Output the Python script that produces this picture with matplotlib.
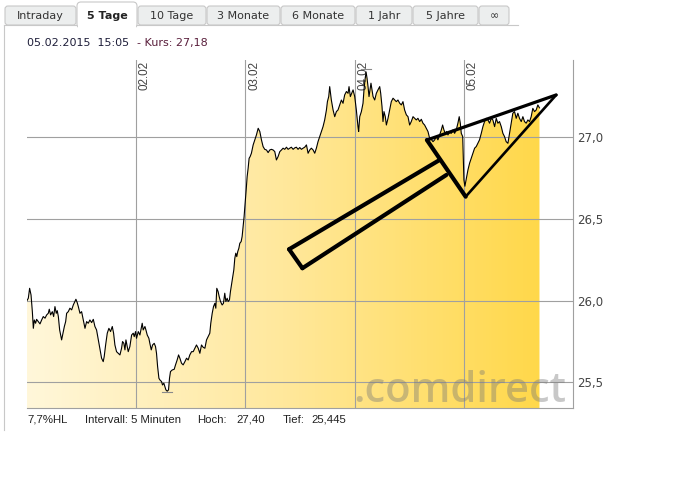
import numpy as np
import matplotlib
matplotlib.use("Agg")
import matplotlib.pyplot as plt
from matplotlib.patches import Rectangle, FancyBboxPatch, PathPatch
from matplotlib.colors import LinearSegmentedColormap
import matplotlib.transforms as mtransforms

# ---------------- data (time in trading days from 30.01.2015 09:00) ----------------
day1_t = [0.000, 0.012, 0.024, 0.037, 0.049, 0.058, 0.067, 0.079, 0.088, 0.104, 0.119, 0.134, 0.149, 0.165,
          0.180, 0.195, 0.204, 0.216, 0.232, 0.244, 0.256, 0.268, 0.277, 0.287, 0.299, 0.317, 0.332, 0.342,
          0.354, 0.363, 0.378, 0.393, 0.409, 0.424, 0.439, 0.448, 0.460, 0.470, 0.485, 0.500, 0.515, 0.531,
          0.546, 0.561, 0.576, 0.592, 0.607, 0.622, 0.637, 0.653, 0.668, 0.683, 0.698, 0.707, 0.720, 0.735,
          0.750, 0.765, 0.781, 0.793, 0.805, 0.820, 0.836, 0.851, 0.866, 0.875, 0.887, 0.897, 0.906, 0.918,
          0.927, 0.942, 0.958, 0.973, 0.982, 0.994]
day1_v = [26.000, 26.014, 26.075, 26.034, 25.932, 25.830, 25.881, 25.861, 25.885, 25.871, 25.857, 25.881,
          25.902, 25.892, 25.912, 25.922, 25.947, 25.912, 25.932, 25.902, 25.963, 25.922, 25.938, 25.902,
          25.820, 25.759, 25.810, 25.841, 25.871, 25.922, 25.932, 25.953, 25.943, 25.973, 25.994, 26.008,
          25.987, 25.963, 25.922, 25.932, 25.881, 25.830, 25.871, 25.861, 25.881, 25.865, 25.885, 25.841,
          25.820, 25.759, 25.698, 25.647, 25.626, 25.657, 25.728, 25.800, 25.830, 25.810, 25.841, 25.800,
          25.728, 25.687, 25.677, 25.667, 25.708, 25.749, 25.738, 25.698, 25.759, 25.718, 25.687, 25.718,
          25.789, 25.800, 25.779, 25.810]

day2_t = [1.003, 1.019, 1.034, 1.043, 1.055, 1.064, 1.080, 1.089, 1.101, 1.116, 1.125, 1.138, 1.150, 1.165,
          1.177, 1.186, 1.196, 1.208, 1.217, 1.232, 1.241, 1.253, 1.263, 1.272, 1.284, 1.296, 1.305, 1.314,
          1.330, 1.348, 1.360, 1.375, 1.388, 1.400, 1.415, 1.430, 1.446, 1.461, 1.476, 1.491, 1.507, 1.522,
          1.537, 1.552, 1.568, 1.583, 1.598, 1.613, 1.629, 1.644, 1.659, 1.674, 1.683, 1.696, 1.708, 1.720,
          1.729, 1.738, 1.750, 1.760, 1.772, 1.787, 1.799, 1.811, 1.821, 1.833, 1.842, 1.854, 1.863, 1.872,
          1.882, 1.894, 1.903, 1.912, 1.921, 1.930, 1.940, 1.949, 1.961, 1.970, 1.979, 1.988]
day2_v = [25.769, 25.810, 25.789, 25.820, 25.861, 25.820, 25.841, 25.820, 25.789, 25.769, 25.738, 25.698,
          25.728, 25.738, 25.718, 25.677, 25.596, 25.524, 25.514, 25.504, 25.483, 25.494, 25.473, 25.453,
          25.445, 25.453, 25.524, 25.565, 25.575, 25.579, 25.606, 25.636, 25.667, 25.647, 25.616, 25.606,
          25.626, 25.647, 25.636, 25.667, 25.687, 25.687, 25.708, 25.728, 25.708, 25.677, 25.728, 25.714,
          25.708, 25.759, 25.779, 25.800, 25.861, 25.922, 25.963, 25.983, 25.953, 26.075, 26.055, 26.024,
          25.994, 25.973, 25.983, 26.045, 25.994, 26.014, 25.994, 26.004, 26.055, 26.096, 26.137, 26.188,
          26.259, 26.290, 26.269, 26.300, 26.320, 26.351, 26.361, 26.392, 26.453, 26.514]

day3_t = [1.998, 2.007, 2.016, 2.025, 2.034, 2.043, 2.055, 2.071, 2.086, 2.101, 2.117, 2.132, 2.147, 2.162,
          2.177, 2.193, 2.208, 2.223, 2.238, 2.254, 2.269, 2.284, 2.299, 2.315, 2.330, 2.345, 2.360, 2.376,
          2.391, 2.406, 2.421, 2.437, 2.452, 2.467, 2.482, 2.498, 2.513, 2.528, 2.543, 2.559, 2.574, 2.589,
          2.604, 2.620, 2.635, 2.650, 2.665, 2.681, 2.696, 2.711, 2.726, 2.742, 2.751, 2.763, 2.772, 2.787,
          2.803, 2.818, 2.833, 2.848, 2.864, 2.879, 2.894, 2.909, 2.925, 2.940, 2.949, 2.961, 2.973, 2.986]
day3_v = [26.596, 26.677, 26.759, 26.810, 26.871, 26.881, 26.902, 26.953, 26.984, 27.014, 27.055, 27.035,
          26.984, 26.943, 26.926, 26.922, 26.906, 26.922, 26.926, 26.922, 26.912, 26.861, 26.881, 26.912,
          26.922, 26.933, 26.926, 26.939, 26.926, 26.933, 26.939, 26.926, 26.935, 26.939, 26.926, 26.937,
          26.926, 26.933, 26.939, 26.953, 26.902, 26.922, 26.933, 26.922, 26.902, 26.933, 26.973, 27.004,
          27.035, 27.065, 27.106, 27.167, 27.218, 27.249, 27.310, 27.228, 27.167, 27.126, 27.157, 27.167,
          27.198, 27.228, 27.208, 27.259, 27.280, 27.269, 27.310, 27.249, 27.269, 27.290]

day4_t = [3.001, 3.016, 3.031, 3.037, 3.047, 3.062, 3.077, 3.086, 3.095, 3.105, 3.114, 3.123, 3.132, 3.141,
          3.150, 3.159, 3.169, 3.184, 3.199, 3.214, 3.230, 3.239, 3.251, 3.260, 3.269, 3.281, 3.291, 3.306,
          3.321, 3.336, 3.352, 3.367, 3.382, 3.397, 3.413, 3.428, 3.443, 3.458, 3.474, 3.489, 3.504, 3.519,
          3.535, 3.550, 3.565, 3.580, 3.596, 3.611, 3.626, 3.641, 3.657, 3.672, 3.687, 3.702, 3.718, 3.733,
          3.748, 3.763, 3.779, 3.794, 3.806, 3.818, 3.830, 3.843, 3.855, 3.870, 3.885, 3.901, 3.916, 3.931,
          3.946, 3.958, 3.968, 3.977, 3.990]
day4_v = [27.249, 27.167, 27.065, 27.035, 27.126, 27.157, 27.208, 27.290, 27.351, 27.400, 27.361, 27.310,
          27.249, 27.290, 27.331, 27.290, 27.249, 27.228, 27.269, 27.290, 27.310, 27.269, 27.188, 27.096,
          27.157, 27.126, 27.075, 27.116, 27.167, 27.218, 27.239, 27.228, 27.218, 27.228, 27.208, 27.198,
          27.218, 27.167, 27.137, 27.126, 27.075, 27.096, 27.126, 27.116, 27.106, 27.116, 27.096, 27.110,
          27.086, 27.075, 27.055, 27.035, 26.994, 26.987, 26.973, 26.984, 27.004, 26.984, 27.014, 27.045,
          27.075, 27.045, 27.024, 27.035, 27.014, 27.035, 27.024, 27.045, 27.024, 27.045, 27.086, 27.126,
          27.086, 27.024, 27.004]

day5_t = [4.001, 4.010, 4.026, 4.038, 4.053, 4.068, 4.083, 4.099, 4.114, 4.129, 4.144, 4.160, 4.175, 4.190,
          4.205, 4.221, 4.236, 4.251, 4.266, 4.282, 4.297, 4.312, 4.327, 4.343, 4.358, 4.373, 4.388, 4.404,
          4.419, 4.434, 4.449, 4.465, 4.480, 4.495, 4.510, 4.526, 4.541, 4.556, 4.571, 4.587, 4.602, 4.617,
          4.632, 4.648, 4.663, 4.678, 4.693]
day5_v = [26.739, 26.700, 26.759, 26.800, 26.841, 26.871, 26.902, 26.933, 26.943, 26.963, 26.984, 27.024,
          27.065, 27.096, 27.116, 27.106, 27.086, 27.116, 27.106, 27.065, 27.116, 27.086, 27.096, 27.065,
          27.024, 27.004, 26.973, 26.963, 27.024, 27.086, 27.147, 27.157, 27.116, 27.147, 27.116, 27.096,
          27.126, 27.096, 27.086, 27.106, 27.096, 27.126, 27.177, 27.157, 27.167, 27.198, 27.180]

day_labels = ["02.02", "03.02", "04.02", "05.02"]
day_starts = [1, 2, 3, 4]
y_ticks = [25.5, 26.0, 26.5, 27.0]
y_tick_labels = ["25,5", "26,0", "26,5", "27,0"]

# hand-drawn annotation (arrow + triangle), data coordinates
arrow_upper_t = [2.400, 3.779]
arrow_upper_v = [26.314, 26.861]
arrow_back_t = [2.400, 2.522]
arrow_back_v = [26.314, 26.198]
arrow_lower_t = [2.522, 3.840]
arrow_lower_v = [26.198, 26.769]
tri_t = [3.662, 4.017, 4.846]
tri_v = [26.983, 26.636, 27.259]

tabs = ["Intraday", "5 Tage", "10 Tage", "3 Monate", "6 Monate", "1 Jahr", "5 Jahre", "\u221e"]
tab_edges = [5, 77, 138, 207, 281, 356, 413, 479, 510]
active_tab = 1

# ---------------- figure ----------------
W, H = 677, 488
fig = plt.figure(figsize=(W / 100, H / 100), dpi=100)
fig.patch.set_facecolor("white")

deco = fig.add_axes([0, 0, 1, 1], zorder=0)
deco.set_xlim(0, W)
deco.set_ylim(H, 0)
deco.axis("off")

# panel borders
deco.plot([4, 4], [25, 430], color="#c8c8c8", lw=0.8)
deco.plot([4, 518], [25, 25], color="#c8c8c8", lw=0.8)

for i, name in enumerate(tabs):
    x0, x1 = tab_edges[i], tab_edges[i + 1] - 1
    if i == active_tab:
        p = FancyBboxPatch((x0, 2), x1 - x0, 26, boxstyle="round,pad=0,rounding_size=4",
                           facecolor="white", edgecolor="#c8c8c8", lw=0.8, zorder=3)
        deco.add_patch(p)
        deco.add_patch(Rectangle((x0 + 0.6, 24.5), x1 - x0 - 1.2, 4, facecolor="white",
                                 edgecolor="none", zorder=4))
        deco.text((x0 + x1) / 2, 16, name, ha="center", va="center", fontsize=8,
                  fontweight="bold", color="#222222", family="DejaVu Sans", zorder=5)
    else:
        p = FancyBboxPatch((x0, 6), x1 - x0, 19, boxstyle="round,pad=0,rounding_size=3",
                           facecolor="#eceeee", edgecolor="#c8c8c8", lw=0.8, zorder=2)
        deco.add_patch(p)
        deco.text((x0 + x1) / 2, 16, name, ha="center", va="center", fontsize=8,
                  color="#333333", family="DejaVu Sans", zorder=5)

deco.text(27, 43, "05.02.2015  15:05", ha="left", va="center", fontsize=8,
          color="#1e1e3a", family="DejaVu Sans")
deco.text(137, 43, "- Kurs: 27,18", ha="left", va="center", fontsize=8,
          color="#5a1f3c", family="DejaVu Sans")

foot = dict(va="center", fontsize=8.2, color="#222222", family="Liberation Sans")
deco.text(27, 420, "7,7%HL", ha="left", **foot)
deco.text(85, 420, "Intervall: 5 Minuten", ha="left", **foot)
deco.text(197, 420, "Hoch:", ha="left", **foot)
deco.text(236, 420, "27,40", ha="left", **foot)
deco.text(283, 420, "Tief:", ha="left", **foot)
deco.text(311, 420, "25,445", ha="left", **foot)

# ---------------- main chart ----------------
left, right, top, bottom = 27, 573, 60, 408
ax = fig.add_axes([left / W, 1 - bottom / H, (right - left) / W, (bottom - top) / H], zorder=1)
ax.set_facecolor("none")

t = np.array(day1_t + day2_t + day3_t + day4_t + day5_t)
v = np.array(day1_v + day2_v + day3_v + day4_v + day5_v)

ymin, ymax = 25.342, 27.473
ax.set_xlim(0, 5)
ax.set_ylim(ymin, ymax)

# gradient fill under the line
poly = ax.fill_between(t, v, ymin, facecolor="none", edgecolor="none")
clip = PathPatch(poly.get_paths()[0], transform=ax.transData, facecolor="none", edgecolor="none")
ax.add_patch(clip)
cmap = LinearSegmentedColormap.from_list("gold", ["#fff7da", "#ffe89c", "#ffd84a"])
grad = np.linspace(0, 1, 256).reshape(1, -1)
img = ax.imshow(grad, extent=[t[0], t[-1], ymin, ymax], aspect="auto", cmap=cmap,
                origin="lower", zorder=1, interpolation="bilinear")
img.set_clip_path(clip)

# grid
for yt in y_ticks:
    ax.axhline(yt, color="#a0a0a0", lw=0.8, zorder=2)
for d in day_starts:
    ax.axvline(d, color="#a0a0a0", lw=0.8, zorder=2)

# date labels
off = mtransforms.offset_copy(ax.get_xaxis_transform(), fig=fig, x=2.7, y=-1, units="dots")
for d, lab in zip(day_starts, day_labels):
    ax.text(d, 1.0, lab, transform=off, rotation=90, ha="left", va="top",
            fontsize=8.4, color="#444444", family="Liberation Sans", zorder=3)

# watermark
ax.text(0.987, 0.018, ".comdirect", transform=ax.transAxes, ha="right", va="baseline",
        fontsize=30, family="Open Sans", fontweight="semibold", color="#777777", alpha=0.4, zorder=3)

# price line
ax.plot(t, v, color="black", lw=0.8, zorder=4)

# high / low markers
i_lo = int(np.argmin(v))
i_hi = int(np.argmax(v))
ax.plot([t[i_lo] - 0.05, t[i_lo] + 0.045], [v[i_lo] - 0.006, v[i_lo] - 0.006], color="#8a8a8a", lw=0.8, zorder=3)
ax.plot([t[i_hi] - 0.05, t[i_hi] + 0.045], [v[i_hi] + 0.02, v[i_hi] + 0.02], color="#8a8a8a", lw=0.8, zorder=3)

# hand-drawn annotation
ak = dict(color="black", solid_capstyle="round", solid_joinstyle="round", zorder=6)
ax.plot(arrow_upper_t, arrow_upper_v, lw=3.0, **ak)
ax.plot(arrow_back_t, arrow_back_v, lw=3.0, **ak)
ax.plot(arrow_lower_t, arrow_lower_v, lw=3.0, **ak)
ax.plot([tri_t[0], tri_t[1]], [tri_v[0], tri_v[1]], lw=3.0, **ak)
ax.plot([tri_t[1], tri_t[2]], [tri_v[1], tri_v[2]], lw=1.9, **ak)
ax.plot([tri_t[2], tri_t[0]], [tri_v[2], tri_v[0]], lw=2.3, **ak)

# axes styling
for s in ["top", "left"]:
    ax.spines[s].set_visible(False)
for s in ["right", "bottom"]:
    ax.spines[s].set_color("#a0a0a0")
    ax.spines[s].set_linewidth(0.8)
ax.set_xticks([])
ax.yaxis.tick_right()
ax.set_yticks(y_ticks)
ax.set_yticklabels(y_tick_labels)
ax.tick_params(axis="y", length=0, pad=3, labelsize=8.5, labelcolor="#444444")
for lab in ax.get_yticklabels():
    lab.set_family("DejaVu Sans")

fig.savefig("out.png", dpi=100)
